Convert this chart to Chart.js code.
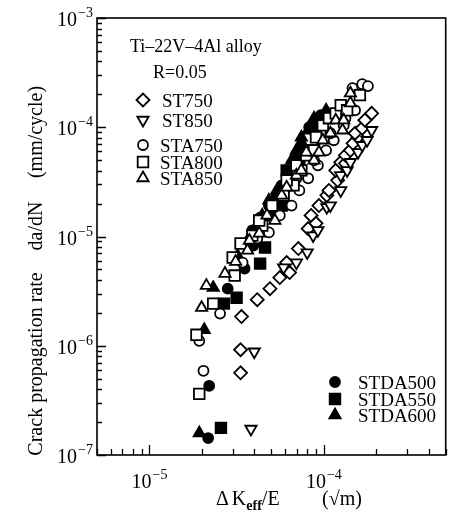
<!DOCTYPE html>
<html>
<head>
<meta charset="utf-8">
<script src="https://cdn.jsdelivr.net/npm/chart.js@4.4.1/dist/chart.umd.min.js"></script>
<style>
  html, body { margin: 0; padding: 0; background: #fff; }
  #wrap { width: 455px; height: 513px; }
</style>
</head>
<body>
<div id="wrap"><canvas id="c" width="455" height="513"></canvas></div>
<script>
// da/dN vs dKeff/E, Ti-22V-4Al, R=0.05
// each entry: [dKeff/E (sqrt m), da/dN (mm/cycle)]
const ST750 = [
  [3.33e-5, 5.65e-7], [3.33e-5, 9.19e-7], [3.37e-5, 1.85e-6], [4.15e-5, 2.64e-6],
  [4.91e-5, 3.33e-6], [5.59e-5, 4.21e-6], [6.36e-5, 4.68e-6], [6.12e-5, 5.77e-6],
  [7.14e-5, 7.76e-6], [8.45e-5, 1.56e-5], [8.13e-5, 1.18e-5], [9.02e-5, 1.32e-5],
  [9.37e-5, 1.92e-5], [1.04e-4, 2.38e-5], [1.07e-4, 2.64e-5], [1.20e-4, 3.27e-5],
  [1.17e-4, 4.03e-5], [1.25e-4, 4.78e-5], [1.33e-4, 4.68e-5], [1.33e-4, 5.54e-5],
  [1.42e-4, 6.15e-5], [1.47e-4, 7.13e-5], [1.57e-4, 8.10e-5], [1.51e-4, 8.81e-5],
  [1.66e-4, 9.80e-5], [1.72e-4, 1.16e-4], [1.88e-4, 1.34e-4]
];
const ST850 = [
  [3.82e-5, 1.73e-7], [3.99e-5, 8.81e-7], [5.88e-5, 5.20e-6], [6.96e-5, 5.77e-6],
  [8.03e-5, 7.13e-6], [8.68e-5, 1.02e-5], [9.25e-5, 1.14e-5], [1.04e-4, 1.85e-5],
  [1.09e-4, 1.92e-5], [1.25e-4, 2.64e-5], [1.25e-4, 3.63e-5], [1.36e-4, 4.03e-5],
  [1.42e-4, 4.78e-5], [1.57e-4, 5.90e-5], [1.66e-4, 6.84e-5], [1.77e-4, 7.60e-5],
  [1.88e-4, 9.39e-5]
];
const STA750 = [
  [1.93e-5, 1.11e-6], [2.04e-5, 5.90e-7], [2.54e-5, 1.97e-6], [3.42e-5, 5.77e-6],
  [4.15e-5, 9.60e-6], [4.84e-5, 1.09e-5], [5.59e-5, 1.56e-5], [6.53e-5, 1.92e-5],
  [7.24e-5, 2.64e-5], [6.96e-5, 3.41e-5], [8.13e-5, 3.41e-5], [9.25e-5, 4.48e-5],
  [8.79e-5, 4.98e-5], [1.03e-4, 6.15e-5], [1.14e-4, 7.60e-5], [1.09e-4, 8.81e-5],
  [1.30e-4, 1.04e-4], [1.33e-4, 1.21e-4], [1.51e-4, 1.43e-4], [1.46e-4, 2.28e-4],
  [1.66e-4, 2.48e-4], [1.79e-4, 2.38e-4]
];
const STA800 = [
  [1.93e-5, 3.63e-7], [1.86e-5, 1.26e-6], [2.32e-5, 2.43e-6], [3.08e-5, 4.39e-6],
  [3.00e-5, 6.42e-6], [3.33e-5, 8.63e-6], [3.89e-5, 1.02e-5], [4.43e-5, 1.26e-5],
  [4.26e-5, 1.40e-5], [5.04e-5, 1.92e-5], [5.88e-5, 2.38e-5], [6.70e-5, 2.94e-5],
  [6.12e-5, 3.27e-5], [7.43e-5, 4.03e-5], [6.96e-5, 4.48e-5], [7.93e-5, 5.54e-5],
  [8.79e-5, 6.15e-5], [9.02e-5, 8.10e-5], [9.87e-5, 1.04e-4], [1.07e-4, 1.21e-4],
  [1.17e-4, 1.34e-4], [1.25e-4, 1.59e-4], [1.36e-4, 1.43e-4], [1.61e-4, 1.97e-4]
];
const STA850 = [
  [1.99e-5, 2.23e-6], [2.12e-5, 3.55e-6], [2.71e-5, 4.58e-6], [3.12e-5, 5.90e-6],
  [3.65e-5, 7.45e-6], [3.74e-5, 9.19e-6], [4.26e-5, 1.07e-5], [4.72e-5, 1.56e-5],
  [5.24e-5, 1.40e-5], [5.73e-5, 2.38e-5], [6.12e-5, 2.82e-5], [6.96e-5, 3.63e-5],
  [7.43e-5, 4.03e-5], [8.79e-5, 4.98e-5], [7.93e-5, 5.90e-5], [9.37e-5, 5.90e-5],
  [9.87e-5, 7.60e-5], [1.09e-4, 8.81e-5], [1.28e-4, 9.39e-5], [1.17e-4, 1.16e-4],
  [1.30e-4, 1.16e-4], [1.42e-4, 1.66e-4], [1.42e-4, 2.05e-4]
];
const STDA500 = [
  [2.17e-5, 1.43e-7], [2.20e-5, 4.30e-7], [2.81e-5, 3.33e-6], [3.51e-5, 5.09e-6],
  [3.94e-5, 8.27e-6], [3.89e-5, 1.14e-5], [4.31e-5, 1.49e-5], [4.84e-5, 1.92e-5],
  [5.37e-5, 2.38e-5], [5.73e-5, 2.94e-5], [6.12e-5, 3.27e-5], [6.96e-5, 4.98e-5],
  [7.43e-5, 6.84e-5], [8.24e-5, 1.00e-4], [9.02e-5, 1.16e-4], [9.62e-5, 1.29e-4]
];
const STDA550 = [
  [2.57e-5, 1.77e-7], [2.67e-5, 2.43e-6], [3.16e-5, 2.75e-6], [4.31e-5, 5.65e-6],
  [4.60e-5, 7.93e-6], [4.04e-5, 9.19e-6], [5.04e-5, 1.56e-5], [5.73e-5, 1.92e-5],
  [6.70e-5, 3.27e-5], [6.12e-5, 4.03e-5], [7.24e-5, 4.98e-5], [7.93e-5, 6.15e-5],
  [9.02e-5, 9.39e-5]
];
const STDA600 = [
  [1.93e-5, 1.59e-7], [2.06e-5, 1.40e-6], [2.32e-5, 3.40e-6], [3.20e-5, 6.70e-6],
  [3.65e-5, 9.19e-6], [4.04e-5, 1.18e-5], [4.43e-5, 1.56e-5], [4.84e-5, 2.14e-5],
  [5.37e-5, 2.64e-5], [6.53e-5, 4.98e-5], [6.96e-5, 6.15e-5], [7.43e-5, 8.10e-5],
  [8.13e-5, 9.39e-5], [8.79e-5, 1.21e-4], [1.03e-4, 1.43e-4]
];

// axes
const xMin = 5e-6, xMax = 5e-4;
const yMin = 1e-7, yMax = 1e-3;
const xTickExps = [-5, -4];
const yTickExps = [-7, -6, -5, -4, -3];

const legendOpen = ['ST750', 'ST850', 'STA750', 'STA800', 'STA850'];
const legendFilled = ['STDA500', 'STDA550', 'STDA600'];

const SERIF = '"Liberation Serif", "Times New Roman", serif';
const STROKE = 1.8;

// marker styles
const styles = {
  ST750:   { pointStyle: 'rectRot',  radius: 6.5, rotation: 0,   fill: '#fff' },
  ST850:   { pointStyle: 'triangle', radius: 6.5, rotation: 180, fill: '#fff' },
  STA750:  { pointStyle: 'circle',   radius: 5,   rotation: 0,   fill: '#fff' },
  STA800:  { pointStyle: 'rect',     radius: 7.5, rotation: 0,   fill: '#fff' },
  STA850:  { pointStyle: 'triangle', radius: 6.5, rotation: 0,   fill: '#fff' },
  STDA500: { pointStyle: 'circle',   radius: 5,   rotation: 0,   fill: '#000' },
  STDA550: { pointStyle: 'rect',     radius: 7.5, rotation: 0,   fill: '#000' },
  STDA600: { pointStyle: 'triangle', radius: 6.5, rotation: 0,   fill: '#000' }
};

const series = { ST750, ST850, STA750, STA800, STA850, STDA500, STDA550, STDA600 };
// draw order: filled first (below), open markers on top
const drawOrder = { STDA500: 8, STDA550: 7, STDA600: 6, ST750: 5, ST850: 4, STA750: 3, STA800: 2, STA850: 1 };

const datasets = Object.keys(series).map(name => {
  const s = styles[name];
  return {
    label: name,
    data: series[name].map(p => ({ x: p[0], y: p[1] })),
    pointStyle: s.pointStyle,
    pointRadius: s.radius,
    pointRotation: s.rotation,
    backgroundColor: s.fill,
    borderColor: '#000',
    borderWidth: STROKE,
    order: drawOrder[name]
  };
});

// 10^n label, anchor 'right' (y axis) or 'center' (x axis)
function powLabel(ctx, exp, px, py, anchor) {
  ctx.font = '20px ' + SERIF;
  const w1 = ctx.measureText('10').width;
  ctx.font = '14px ' + SERIF;
  const e = '\u2212' + Math.abs(exp);
  const w2 = ctx.measureText(e).width;
  const total = w1 + 1 + w2;
  const x0 = anchor === 'right' ? px - total : px - total / 2;
  ctx.textAlign = 'left';
  ctx.textBaseline = 'alphabetic';
  ctx.font = '20px ' + SERIF;
  ctx.fillText('10', x0, py + 8);
  ctx.font = '14px ' + SERIF;
  ctx.fillText(e, x0 + w1 + 1, py - 1);
}

const decor = {
  id: 'decor',
  afterDatasetsDraw(chart) {
    const { ctx, chartArea: a, scales: { x, y } } = chart;
    ctx.save();
    ctx.strokeStyle = '#000';
    ctx.fillStyle = '#000';

    // frame
    ctx.lineWidth = 1.6;
    ctx.strokeRect(a.left, a.top, a.right - a.left, a.bottom - a.top);

    // inward ticks on left and bottom axes
    ctx.lineWidth = 1.3;
    ctx.beginPath();
    for (let e = -8; e <= -3; e++) {
      for (let m = 1; m <= 9; m++) {
        const v = m * Math.pow(10, e);
        if (v >= y.min * 0.999 && v <= y.max * 1.001) {
          const py = Math.round(y.getPixelForValue(v)) + 0.5;
          ctx.moveTo(a.left, py);
          ctx.lineTo(a.left + (m === 1 ? 9 : 5), py);
        }
        if (v >= x.min * 0.999 && v <= x.max * 1.001) {
          const px = Math.round(x.getPixelForValue(v)) + 0.5;
          ctx.moveTo(px, a.bottom);
          ctx.lineTo(px, a.bottom - (m === 1 ? 10 : 6));
        }
      }
    }
    ctx.stroke();

    // tick labels
    yTickExps.forEach(e => powLabel(ctx, e, a.left - 4, y.getPixelForValue(Math.pow(10, e)), 'right'));
    xTickExps.forEach(e => powLabel(ctx, e, x.getPixelForValue(Math.pow(10, e)), 480, 'center'));

    // y axis title
    ctx.save();
    ctx.translate(37, 0);
    ctx.rotate(-Math.PI / 2);
    ctx.font = '20px ' + SERIF;
    ctx.textBaseline = 'middle';
    ctx.textAlign = 'center';
    ctx.fillText('Crack propagation rate', -364, 0);
    ctx.fillText('da/dN', -226, 0);
    ctx.fillText('(mm/cycle)', -132, 0);
    ctx.restore();

    // x axis title
    ctx.textAlign = 'left';
    ctx.textBaseline = 'alphabetic';
    let cx = 216;
    ctx.font = '20px ' + SERIF;
    ctx.fillText('\u0394', cx, 505); cx += ctx.measureText('\u0394').width + 3;
    ctx.fillText('K', cx, 505); cx += ctx.measureText('K').width;
    ctx.font = 'bold 14px ' + SERIF;
    ctx.fillText('eff', cx, 510); cx += ctx.measureText('eff').width;
    ctx.font = '20px ' + SERIF;
    ctx.fillText('/E', cx, 505);
    ctx.fillText('(\u221Am)', 322, 505);

    // annotations
    ctx.font = '18px ' + SERIF;
    ctx.fillText('Ti\u201322V\u20134Al alloy', 130, 52);
    ctx.fillText('R=0.05', 153, 78);

    // legends
    const drawKey = (name, mx, my, tx) => {
      const s = styles[name];
      ctx.fillStyle = s.fill;
      ctx.strokeStyle = '#000';
      ctx.lineWidth = STROKE;
      Chart.helpers.drawPoint(ctx, { pointStyle: s.pointStyle, radius: s.radius, rotation: s.rotation, borderWidth: STROKE }, mx, my);
      ctx.fillStyle = '#000';
      ctx.font = '19px ' + SERIF;
      ctx.textBaseline = 'middle';
      ctx.fillText(name, tx, my + 2);
    };
    const openY = [100, 120, 145, 162, 178];
    legendOpen.forEach((n, i) => drawKey(n, 143, openY[i], i < 2 ? 162 : 160));
    const filledY = [382, 399, 415];
    legendFilled.forEach((n, i) => drawKey(n, 335, filledY[i], 358));

    ctx.restore();
  }
};

new Chart(document.getElementById('c'), {
  type: 'scatter',
  data: { datasets },
  options: {
    responsive: false,
    animation: false,
    events: [],
    layout: { padding: { top: 18, right: 3, left: 0, bottom: 0 } },
    plugins: { legend: { display: false }, tooltip: { enabled: false } },
    scales: {
      x: {
        type: 'logarithmic', min: xMin, max: xMax,
        ticks: { display: false }, grid: { display: false }, border: { display: false },
        afterFit: s => { s.height = 58; }
      },
      y: {
        type: 'logarithmic', min: yMin, max: yMax,
        ticks: { display: false }, grid: { display: false }, border: { display: false },
        afterFit: s => { s.width = 97; }
      }
    }
  },
  plugins: [decor]
});
</script>
</body>
</html>
